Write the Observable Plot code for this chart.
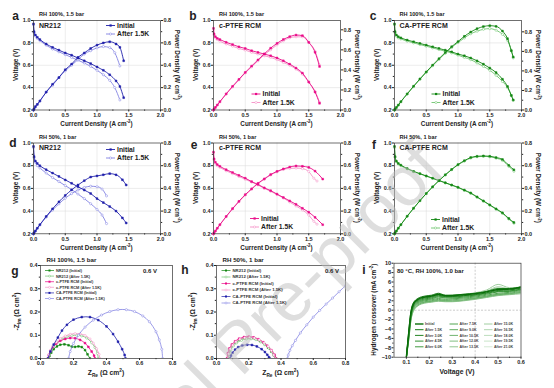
<!DOCTYPE html>
<html><head><meta charset="utf-8">
<script src="https://cdn.jsdelivr.net/npm/d3@7"></script>
<script src="https://cdn.jsdelivr.net/npm/@observablehq/plot@0.6"></script>
<style>
body{margin:0;background:#fff;font-family:"Liberation Sans",Arial,sans-serif}
#root{position:relative;width:554px;height:388px;overflow:hidden;background:#fff}
.p{position:absolute}
</style></head><body><div id="root"></div>
<script>
// ---------- Polarization data (current density A/cm2, voltage V, power W/cm2) ----------
// a: NR212, RH 100%
const aI0 = [0,0.01,0.03,0.06,0.1,0.2,0.3,0.4,0.5,0.6,0.7,0.8,0.9,1.0,1.1,1.2,1.3,1.36,1.42];
const aV0 = [0.97,0.90,0.87,0.85,0.83,0.79,0.76,0.735,0.71,0.69,0.665,0.64,0.615,0.585,0.555,0.515,0.46,0.41,0.31];
const aP0 = [0,0.01,0.03,0.05,0.08,0.16,0.23,0.29,0.36,0.41,0.47,0.51,0.55,0.58,0.60,0.61,0.59,0.56,0.44];
const aI1 = [0,0.01,0.03,0.06,0.1,0.2,0.3,0.4,0.5,0.6,0.7,0.8,0.9,1.0,1.1,1.2,1.28,1.36];
const aV1 = [0.96,0.89,0.86,0.84,0.82,0.78,0.745,0.72,0.695,0.67,0.645,0.62,0.59,0.555,0.515,0.465,0.40,0.29];
const aP1 = [0,0.01,0.03,0.05,0.08,0.16,0.22,0.29,0.35,0.40,0.45,0.50,0.53,0.555,0.567,0.558,0.512,0.394];
// b: c-PTFE RCM, RH 100%
const bI0 = [0,0.01,0.03,0.06,0.1,0.2,0.3,0.4,0.5,0.6,0.7,0.8,0.9,1.0,1.1,1.2,1.3,1.4,1.5,1.6,1.67];
const bV0 = [0.93,0.88,0.855,0.84,0.83,0.805,0.785,0.765,0.75,0.73,0.715,0.70,0.685,0.665,0.64,0.61,0.575,0.53,0.45,0.36,0.26];
const bP0 = [0,0.009,0.026,0.05,0.083,0.161,0.236,0.306,0.375,0.438,0.50,0.56,0.617,0.665,0.704,0.732,0.748,0.742,0.675,0.576,0.434];
const bI1 = [0,0.01,0.03,0.06,0.1,0.2,0.3,0.4,0.5,0.6,0.7,0.8,0.9,1.0,1.1,1.2,1.3,1.4,1.5,1.6,1.67];
const bV1 = [0.92,0.87,0.845,0.83,0.815,0.79,0.77,0.75,0.735,0.715,0.70,0.685,0.67,0.65,0.625,0.60,0.565,0.52,0.45,0.365,0.27];
const bP1 = [0,0.009,0.025,0.05,0.08,0.16,0.23,0.30,0.37,0.43,0.49,0.55,0.60,0.65,0.69,0.72,0.73,0.73,0.675,0.585,0.45];
// c: CA-PTFE RCM, RH 100%
const cI0 = [0,0.01,0.03,0.06,0.1,0.2,0.3,0.4,0.5,0.6,0.7,0.8,0.9,1.0,1.1,1.2,1.3,1.4,1.5,1.6,1.7,1.78,1.84,1.87];
const cV0 = [0.97,0.90,0.87,0.855,0.845,0.825,0.81,0.795,0.78,0.765,0.75,0.735,0.72,0.70,0.685,0.665,0.64,0.61,0.575,0.535,0.475,0.41,0.33,0.29];
const cP0 = [0,0.01,0.026,0.05,0.085,0.165,0.243,0.318,0.39,0.459,0.525,0.588,0.648,0.70,0.754,0.798,0.832,0.854,0.863,0.856,0.808,0.73,0.607,0.542];
const cI1 = [0,0.01,0.03,0.06,0.1,0.2,0.3,0.4,0.5,0.6,0.7,0.8,0.9,1.0,1.1,1.2,1.3,1.4,1.5,1.6,1.7,1.78,1.84,1.87];
const cV1 = [0.96,0.89,0.86,0.845,0.835,0.815,0.80,0.785,0.77,0.755,0.74,0.725,0.71,0.69,0.67,0.65,0.62,0.59,0.555,0.51,0.455,0.40,0.33,0.285];
const cP1 = [0,0.01,0.026,0.05,0.084,0.163,0.24,0.314,0.385,0.453,0.518,0.58,0.639,0.69,0.737,0.78,0.806,0.826,0.833,0.816,0.774,0.712,0.607,0.533];
// d: NR212, RH 50%
const dI0 = [0,0.01,0.03,0.06,0.1,0.2,0.3,0.4,0.5,0.6,0.7,0.8,0.9,1.0,1.1,1.2,1.3,1.4,1.46];
const dV0 = [0.97,0.88,0.84,0.82,0.80,0.765,0.735,0.705,0.675,0.645,0.615,0.585,0.555,0.51,0.475,0.44,0.40,0.34,0.295];
const dP0 = [0,0.009,0.025,0.049,0.08,0.153,0.22,0.282,0.338,0.387,0.43,0.468,0.50,0.51,0.52,0.53,0.52,0.476,0.43];
const dI1 = [0,0.01,0.03,0.06,0.1,0.2,0.3,0.4,0.5,0.6,0.7,0.8,0.9,1.0,1.08,1.15];
const dV1 = [0.96,0.87,0.83,0.80,0.78,0.735,0.695,0.66,0.625,0.59,0.55,0.51,0.465,0.415,0.365,0.29];
const dP1 = [0,0.009,0.025,0.048,0.078,0.147,0.209,0.264,0.313,0.354,0.385,0.408,0.419,0.415,0.394,0.334];
// e: c-PTFE RCM, RH 50%
const eI0 = [0,0.01,0.03,0.06,0.1,0.2,0.3,0.4,0.5,0.6,0.7,0.8,0.9,1.0,1.1,1.2,1.3,1.4,1.5,1.6,1.72];
const eV0 = [0.92,0.86,0.83,0.81,0.795,0.765,0.74,0.715,0.69,0.66,0.635,0.605,0.58,0.55,0.52,0.49,0.46,0.425,0.39,0.345,0.28];
const eP0 = [0,0.009,0.025,0.049,0.08,0.153,0.222,0.286,0.345,0.396,0.445,0.484,0.522,0.55,0.572,0.588,0.598,0.595,0.585,0.552,0.482];
const eI1 = [0,0.01,0.03,0.06,0.1,0.2,0.3,0.4,0.5,0.6,0.7,0.8,0.9,1.0,1.1,1.2,1.3,1.4,1.5,1.58,1.63];
const eV1 = [0.91,0.85,0.82,0.80,0.785,0.755,0.73,0.705,0.68,0.655,0.63,0.60,0.575,0.545,0.515,0.48,0.445,0.41,0.365,0.31,0.285];
const eP1 = [0,0.0085,0.025,0.048,0.079,0.151,0.219,0.282,0.34,0.393,0.441,0.48,0.518,0.545,0.567,0.576,0.579,0.574,0.548,0.49,0.465];
// f: CA-PTFE RCM, RH 50%
const fI0 = [0,0.01,0.03,0.06,0.1,0.2,0.3,0.4,0.5,0.6,0.7,0.8,0.9,1.0,1.1,1.2,1.3,1.4,1.5,1.6,1.7,1.8,1.88];
const fV0 = [0.97,0.88,0.84,0.82,0.805,0.775,0.75,0.73,0.71,0.69,0.67,0.65,0.63,0.61,0.585,0.56,0.525,0.49,0.455,0.42,0.385,0.335,0.30];
const fP0 = [0,0.009,0.025,0.049,0.08,0.155,0.225,0.292,0.355,0.414,0.469,0.52,0.567,0.61,0.644,0.672,0.683,0.686,0.683,0.672,0.655,0.603,0.564];
const fI1 = [0,0.01,0.03,0.06,0.1,0.2,0.3,0.4,0.5,0.6,0.7,0.8,0.9,1.0,1.1,1.2,1.3,1.4,1.5,1.6,1.7,1.8,1.88];
const fV1 = [0.96,0.875,0.835,0.815,0.80,0.772,0.748,0.728,0.708,0.688,0.668,0.648,0.628,0.607,0.582,0.556,0.522,0.487,0.452,0.416,0.38,0.33,0.293];
const fP1 = [0,0.009,0.025,0.049,0.08,0.154,0.224,0.291,0.354,0.413,0.468,0.518,0.565,0.607,0.64,0.667,0.679,0.682,0.678,0.666,0.646,0.594,0.551];

// ---------- EIS (Zre, -Zim in ohm cm2) ----------
const gNRiX = [0.05,0.055,0.065,0.08,0.10,0.12,0.145,0.17,0.19,0.21,0.23,0.25,0.27,0.285,0.30];
const gNRiY = [0,0.012,0.025,0.04,0.052,0.059,0.061,0.057,0.051,0.05,0.052,0.049,0.036,0.018,0];
const gNRaX = [0.05,0.055,0.065,0.08,0.10,0.13,0.16,0.19,0.22,0.25,0.28,0.31,0.33,0.345,0.35];
const gNRaY = [0,0.015,0.032,0.05,0.067,0.083,0.094,0.099,0.10,0.097,0.088,0.068,0.047,0.022,0];
const gCiX = [0.045,0.05,0.06,0.075,0.095,0.12,0.15,0.18,0.21,0.24,0.27,0.29,0.31,0.325,0.33];
const gCiY = [0,0.015,0.032,0.05,0.064,0.076,0.084,0.088,0.087,0.08,0.066,0.05,0.03,0.012,0];
const gCaX = [0.045,0.05,0.06,0.075,0.095,0.12,0.15,0.18,0.21,0.24,0.27,0.30,0.32,0.34,0.355,0.36];
const gCaY = [0,0.016,0.035,0.054,0.07,0.085,0.097,0.104,0.107,0.106,0.099,0.084,0.066,0.042,0.018,0];
const gCAiX = [0.045,0.06,0.08,0.105,0.13,0.16,0.20,0.25,0.30,0.35,0.40,0.44,0.47,0.495,0.51,0.515];
const gCAiY = [0,0.03,0.06,0.09,0.12,0.145,0.167,0.178,0.178,0.165,0.138,0.105,0.072,0.04,0.015,0];
const gCAaX = [0.17,0.18,0.20,0.23,0.27,0.32,0.37,0.42,0.47,0.52,0.57,0.62,0.66,0.70,0.72,0.735,0.74];
const gCAaY = [0,0.03,0.065,0.10,0.135,0.165,0.187,0.202,0.21,0.21,0.202,0.183,0.158,0.115,0.08,0.04,0];

const hNRiX = [0.07,0.075,0.085,0.10,0.12,0.15,0.18,0.21,0.24,0.27,0.30,0.32,0.34,0.355,0.365];
const hNRiY = [0,0.02,0.04,0.057,0.07,0.082,0.088,0.089,0.085,0.075,0.06,0.047,0.03,0.014,0];
const hNRaX = [0.075,0.08,0.09,0.105,0.125,0.155,0.185,0.215,0.245,0.275,0.30,0.325,0.345,0.36,0.37];
const hNRaY = [0,0.018,0.037,0.054,0.067,0.078,0.084,0.085,0.081,0.071,0.059,0.044,0.028,0.012,0];
const hCiX = [0.065,0.07,0.08,0.095,0.115,0.14,0.17,0.20,0.23,0.26,0.29,0.315,0.34,0.36,0.37];
const hCiY = [0,0.022,0.043,0.06,0.074,0.085,0.092,0.094,0.091,0.083,0.07,0.055,0.036,0.016,0];
const hCaX = [0.07,0.075,0.085,0.10,0.12,0.145,0.175,0.205,0.235,0.265,0.295,0.32,0.34,0.355,0.365];
const hCaY = [0,0.02,0.041,0.058,0.072,0.083,0.089,0.091,0.088,0.08,0.067,0.052,0.034,0.015,0];
const hCAiX = [0.085,0.09,0.10,0.115,0.135,0.16,0.19,0.22,0.25,0.28,0.30,0.315,0.325,0.33];
const hCAiY = [0,0.012,0.025,0.038,0.049,0.056,0.059,0.058,0.052,0.04,0.028,0.016,0.006,0];
const hCAaX = [0.44,0.445,0.455,0.47,0.49,0.52,0.56,0.60,0.64,0.68,0.72,0.76,0.80];
const hCAaY = [0,0.015,0.035,0.055,0.078,0.11,0.145,0.178,0.207,0.234,0.26,0.287,0.313];

const eisLabels = ["NR212 (Initial)","NR212 (After 1.5K)","c-PTFE RCM (Initial)","c-PTFE RCM (After 1.5K)","CA-PTFE RCM (Initial)","CA-PTFE RCM (After 1.5K)"];

// ---------- Hydrogen crossover (voltage V, current mA/cm2) ----------
const xV = [0.1,0.11,0.12,0.13,0.15,0.18,0.21,0.24,0.27,0.3,0.35,0.4,0.45,0.5,0.55,0.6];
const xc0  = [-10,-5.0,-0.5,1.3,2.3,2.8,3.0,3.4,3.1,3.1,3.3,3.5,3.9,4.4,4.5,4.9];
const xc1  = [-10,-4.6,-0.2,1.5,2.5,3.0,3.2,3.6,3.2,3.2,3.4,3.6,4.0,4.6,4.6,5.0];
const xc2  = [-10,-5.2,-0.8,1.1,2.1,2.6,2.8,3.2,2.9,2.9,3.1,3.3,3.7,4.2,4.3,4.7];
const xc3  = [-10,-5.4,-1.0,0.9,1.9,2.4,2.6,3.0,2.8,2.8,3.0,3.2,3.6,4.0,4.1,4.5];
const xc4  = [-10,-5.6,-1.2,0.7,1.7,2.2,2.4,2.8,2.6,2.6,2.8,3.0,3.4,3.9,4.0,4.4];
const xc5  = [-10,-5.8,-1.4,0.5,1.5,2.0,2.2,2.5,2.3,2.4,2.6,2.8,3.2,3.6,3.8,4.2];
const xc6  = [-10,-6.0,-1.6,0.3,1.3,1.8,2.0,2.3,2.1,2.2,2.4,2.6,3.0,3.4,3.6,4.0];
const xc7  = [-10,-6.2,-1.8,0.1,1.1,1.7,1.9,2.1,2.0,2.0,2.2,2.5,2.9,3.3,3.5,3.8];
const xc8  = [-10,-6.4,-2.0,-0.1,1.0,1.6,1.8,2.0,1.9,1.9,2.1,2.4,2.8,3.2,3.4,3.7];
const xc9  = [-10,-6.6,-2.2,-0.3,0.9,1.5,1.7,1.9,1.8,1.8,2.0,2.3,2.7,3.1,3.3,3.5];
const xc10 = [-10,-5.0,-0.6,1.2,2.2,2.8,3.0,3.3,3.1,3.2,3.4,3.7,4.3,5.5,4.8,4.9];
const xc11 = [-10,-5.3,-0.9,1.0,2.0,2.6,2.9,3.2,3.0,3.0,3.3,3.6,4.1,5.0,4.6,4.7];
const xc12 = [-10,-5.5,-1.1,0.8,1.9,2.5,2.8,3.1,2.9,2.9,3.2,3.5,4.0,4.8,4.5,4.6];
const xc13 = [-10,-5.7,-1.3,0.6,1.7,2.3,2.6,2.9,2.7,2.7,3.0,3.3,3.8,4.5,4.3,4.4];
const xc14 = [-10,-5.9,-1.5,0.4,1.5,2.1,2.4,2.7,2.5,2.5,2.8,3.1,3.6,4.3,4.1,4.2];
const xLabels = ["Initial","After 1.5K","After 3.0K","After 4.5K","After 6.0K","After 7.5K","After 9.0K","After 10.5K","After 12.0K","After 13.5K","After 15.0K","After 16.5K","After 18.0K","After 19.5K","After 21.0K"];

// ---------- styling ----------
const FONT = "Liberation Sans, Arial, sans-serif";
const BLUE = ["#1e1eaa","#8282e2"], PINK = ["#ea0a88","#f590c6"], GREEN = ["#128612","#6ec46e"];
const XGREENS = ["#0a6e0a","#177a17","#248524","#329032","#409a40","#50a450","#60ad60","#70b570","#80be80","#90c690","#a0cea0","#afd6af","#bcddbc","#c8e4c8","#d3e9d3"];
const root = document.getElementById("root");
function place(el, left, top){const d=document.createElement("div");d.className="p";d.style.left=left+"px";d.style.top=top+"px";d.appendChild(el);root.appendChild(d);}
const rows = (I,V,P) => I.map((x,k)=>({i:x, v:V[k], p:P[k]}));
const pts = (X,Y) => X.map((x,k)=>({x, y:Y[k]}));
const baseStyle = {fontFamily:FONT, fontSize:"5.5px", fontWeight:"bold", color:"#222", background:"transparent", overflow:"visible"};

function pol(I0,V0,P0,I1,V1,P1,pmax,col,mt,mb){
  const r0 = rows(I0,V0,P0), r1 = rows(I1,V1,P1);
  const py = d => 0.2 + d.p*0.8/pmax;
  const rt = [0,0.2,0.4,0.6,0.8].map(p=>0.2+p*0.8/pmax);
  const rtm = [0.1,0.3,0.5,0.7].map(p=>0.2+p*0.8/pmax);
  const set = (r, c, open) => [
    Plot.line(r,{x:"i",y:"v",stroke:c,strokeWidth:0.9,curve:"monotone-x"}),
    Plot.line(r,{x:"i",y:py,stroke:c,strokeWidth:0.9,curve:"monotone-x"}),
    Plot.dot(r,{x:"i",y:"v",symbol:open?"circle":"square",r:open?1.1:1.0,fill:open?"white":c,stroke:c,strokeWidth:0.5}),
    Plot.dot(r,{x:"i",y:py,symbol:open?"circle":"square",r:open?1.1:1.0,fill:open?"white":c,stroke:c,strokeWidth:0.5})
  ];
  return Plot.plot({
    width:184, height:130, marginLeft:33, marginRight:24, marginTop:mt, marginBottom:mb,
    style:baseStyle,
    x:{domain:[0,2]}, y:{domain:[0.2,1.0]},
    marks:[
      Plot.gridX([0.5,1,1.5],{stroke:"#d8d8d8",strokeOpacity:1,strokeWidth:0.5}),
      Plot.gridY([0.4,0.6,0.8],{stroke:"#d8d8d8",strokeOpacity:1,strokeWidth:0.5}),
      Plot.axisX({ticks:[0,0.5,1,1.5,2],tickFormat:d3.format(".1f"),tickSize:2,tickPadding:1,label:null}),
      Plot.axisX({ticks:[0.25,0.75,1.25,1.75],tickSize:1.2,text:null,label:null}),
      Plot.axisY({ticks:[0.2,0.4,0.6,0.8,1.0],tickFormat:d3.format(".1f"),tickSize:2,tickPadding:1,label:null}),
      Plot.axisY({ticks:[0.3,0.5,0.7,0.9],tickSize:1.2,text:null,label:null}),
      Plot.axisY({anchor:"right",ticks:rt,tickFormat:v=>((v-0.2)*pmax/0.8).toFixed(1),tickSize:2,tickPadding:1,label:null}),
      Plot.axisY({anchor:"right",ticks:rtm,tickSize:1.2,text:null,label:null}),
      ...set(r1,col[1],true),
      ...set(r0,col[0],false),
      Plot.frame({stroke:"#333",strokeWidth:0.7})
    ]
  });
}

place(pol(aI0,aV0,aP0,aI1,aV1,aP1,0.8,BLUE,20,20.5),0,0);
place(pol(bI0,bV0,bP0,bI1,bV1,bP1,0.893,PINK,20,20.5),180,0);
place(pol(cI0,cV0,cP0,cI1,cV1,cP1,0.916,GREEN,20,20.5),360.5,0);
place(pol(dI0,dV0,dP0,dI1,dV1,dP1,0.8,BLUE,18.5,20.7),0,124);
place(pol(eI0,eV0,eP0,eI1,eV1,eP1,0.8,PINK,18.5,20.7),180,124);
place(pol(fI0,fV0,fP0,fI1,fV1,fP1,0.8,GREEN,18.5,20.7),360.5,124);

// EIS panels
const eisCols = [GREEN[0],GREEN[1],PINK[0],PINK[1],BLUE[0],BLUE[1]];
function eis(sets, ml, mr){
  const marks = [
    Plot.axisX({ticks:[0,0.2,0.4,0.6,0.8],tickFormat:d3.format(".1f"),tickSize:2,tickPadding:1,label:null}),
    Plot.axisX({ticks:[0.1,0.3,0.5,0.7],tickSize:1.2,text:null,label:null}),
    Plot.axisY({ticks:[0,0.1,0.2,0.3,0.4],tickFormat:d3.format(".1f"),tickSize:2,tickPadding:1,label:null}),
    Plot.axisY({ticks:[0.05,0.15,0.25,0.35],tickSize:1.2,text:null,label:null})
  ];
  sets.forEach((s,k)=>{
    const c = eisCols[k], open = k%2===1;
    marks.push(Plot.line(s,{x:"x",y:"y",stroke:c,strokeWidth:0.8,curve:"catmull-rom",clip:true}));
    marks.push(Plot.dot(s,{x:"x",y:"y",symbol:open?"circle":"square",r:open?1.1:1.0,fill:open?"white":c,stroke:c,strokeWidth:0.5,clip:true}));
  });
  marks.push(Plot.frame({stroke:"#333",strokeWidth:0.7}));
  return Plot.plot({width:184,height:138,marginLeft:ml,marginRight:mr,marginTop:15,marginBottom:30,style:baseStyle,
    x:{domain:[0,0.8]}, y:{domain:[0,0.4]}, marks});
}
place(eis([pts(gNRiX,gNRiY),pts(gNRaX,gNRaY),pts(gCiX,gCiY),pts(gCaX,gCaY),pts(gCAiX,gCAiY),pts(gCAaX,gCAaY)],40,12),0,250);
place(eis([pts(hNRiX,hNRiY),pts(hNRaX,hNRaY),pts(hCiX,hCiY),pts(hCaX,hCaY),pts(hCAiX,hCAiY),pts(hCAaX,hCAaY)],36,19),180,250);

// Crossover panel
const xcs = [xc0,xc1,xc2,xc3,xc4,xc5,xc6,xc7,xc8,xc9,xc10,xc11,xc12,xc13,xc14];
{
  const marks = [
    Plot.ruleX([0.4],{stroke:"#aaa",strokeDasharray:"2,1.5",strokeWidth:0.6}),
    Plot.ruleY([0],{stroke:"#aaa",strokeDasharray:"2,1.5",strokeWidth:0.6}),
    Plot.axisX({ticks:[0.1,0.2,0.3,0.4,0.5,0.6],tickFormat:d3.format(".1f"),tickSize:2,tickPadding:1,label:null}),
    Plot.axisX({ticks:[0.15,0.25,0.35,0.45,0.55],tickSize:1.2,text:null,label:null}),
    Plot.axisY({ticks:d3.range(-10,11,2),tickSize:2,tickPadding:1,label:null}),
    Plot.axisY({ticks:d3.range(-9,10,2),tickSize:1.2,text:null,label:null})
  ];
  for (let k=xcs.length-1;k>=0;k--){
    marks.push(Plot.line(pts(xV,xcs[k]),{x:"x",y:"y",stroke:XGREENS[k],strokeWidth:k===0?1.5:1.0,curve:"monotone-x",clip:true}));
  }
  marks.push(Plot.frame({stroke:"#333",strokeWidth:0.7}));
  place(Plot.plot({width:194,height:138,marginLeft:33.5,marginRight:33.5,marginTop:12.7,marginBottom:31.3,style:baseStyle,
    x:{domain:[0.046,0.6]}, y:{domain:[-10,10]}, marks}),360,250);
}

// ---------- overlay text ----------
const ov = d3.select(root).append("svg").attr("width",554).attr("height",388)
  .style("position","absolute").style("left","0").style("top","0").style("font-family",FONT);
function label(x,y,parts,{size=6.5,weight="bold",anchor="middle",rotate=0,fill="#222"}={}){
  const t = ov.append("text").attr("transform",`translate(${x},${y}) rotate(${rotate})`)
    .attr("text-anchor",anchor).attr("font-size",size).attr("font-weight",weight).attr("fill",fill);
  let cur = 0;
  for (const p of parts){
    let s = p, off = 0, fs = size;
    if (typeof p !== "string"){ s = p.t; off = p.sup ? -0.4*size : 0.3*size; fs = size*0.7; }
    t.append("tspan").attr("dy",off-cur).attr("font-size",fs).text(s);
    cur = off;
  }
  return t;
}
const cmA = ["Current Density (A cm",{t:"-2",sup:1},")"];
const cmW = ["Power Density (W cm",{t:"-2",sup:1},")"];
const panels = [
  {x0:0,fy0:20,fy1:109.5,letter:"a",lx:15.5,ly:19.5,sub:"RH 100%, 1.5 bar",sy:15.5,name:"NR212"},
  {x0:180,fy0:20,fy1:109.5,letter:"b",lx:193,ly:19.5,sub:"RH 100%, 1.5 bar",sy:15.5,name:"c-PTFE RCM"},
  {x0:360.5,fy0:20,fy1:109.5,letter:"c",lx:373,ly:20,sub:"RH 100%, 1.5 bar",sy:15.5,name:"CA-PTFE RCM"},
  {x0:0,fy0:142.5,fy1:233.3,letter:"d",lx:13,ly:146.5,sub:"RH 50%, 1 bar",sy:139,name:"NR212"},
  {x0:180,fy0:142.5,fy1:233.3,letter:"e",lx:194,ly:149,sub:"RH 50%, 1 bar",sy:139,name:"c-PTFE RCM"},
  {x0:360.5,fy0:142.5,fy1:233.3,letter:"f",lx:374,ly:148.5,sub:"RH 50%, 1 bar",sy:139,name:"CA-PTFE RCM"}
];
const legPos = [[106,25.5],[251.5,94],[431.5,94],[106,149.5],[250,218.5],[431,219.5]];
const cols = [BLUE,PINK,GREEN,BLUE,PINK,GREEN];
// watermark (drawn first, very light)
ov.append("text").attr("transform","translate(447,172) rotate(-45)").attr("text-anchor","end")
  .attr("font-size",70).attr("font-family",FONT).attr("fill","#bdbdbd").attr("fill-opacity",0.5).text("Journal Pre-proof");
panels.forEach((p,k)=>{
  const fx0 = p.x0+33, fx1 = p.x0+160, fym = (p.fy0+p.fy1)/2;
  label(p.lx,p.ly,[p.letter],{size:12});
  label(fx0+6,p.sy,[p.sub],{size:5.6,anchor:"start",weight:"bold"});
  label(fx0+6,p.fy0+7.5,[p.name],{size:7,anchor:"start"});
  label(fx0-15,fym,["Voltage (V)"],{size:6.3,rotate:-90});
  label(fx1+15,fym,cmW,{size:6.3,rotate:90});
  label((fx0+fx1)/2,p.fy1+16.5,cmA,{size:6.3});
  const [lx,ly] = legPos[k];
  ["Initial","After 1.5K"].forEach((t,j)=>{
    const y = ly + j*8.5, c = cols[k][j];
    ov.append("line").attr("x1",lx).attr("x2",lx+9).attr("y1",y).attr("y2",y).attr("stroke",c).attr("stroke-width",0.9);
    if (j===0) ov.append("rect").attr("x",lx+3.5).attr("y",y-1.1).attr("width",2.2).attr("height",2.2).attr("fill",c);
    else ov.append("circle").attr("cx",lx+4.5).attr("cy",y).attr("r",1.1).attr("fill","white").attr("stroke",c).attr("stroke-width",0.5);
    label(lx+11,y+2.3,[t],{size:6.8,anchor:"start"});
  });
});
// EIS labels
[[0,40,172,"g",15,275,"RH 100%, 1.5 bar",46.5,[45,270.5,5.6,3.9],143],[180,216,345,"h",185,273.5,"RH 50%, 1 bar",222.5,[221.5,270.5,6.5,4.3],325]].forEach(([x0,fx0,fx1,lt,lx,ly,sub,sx,leg,vx])=>{
  label(lx,ly,[lt],{size:12});
  label(sx,262,[sub],{size:6.2,anchor:"start"});
  label(fx0-21,311.5,["-Z",{t:"Im",sub:1}," (\u03A9 cm",{t:"2",sup:1},")"],{size:6.8,rotate:-90});
  label((fx0+fx1)/2,374.5,["Z",{t:"Re",sub:1}," (\u03A9 cm",{t:"2",sup:1},")"],{size:6.8});
  label(vx,272.5,["0.6 V"],{size:6,anchor:"start"});
  const [lx0,ly0,dy,fs] = leg;
  eisLabels.forEach((t,j)=>{
    const y = ly0 + j*dy, c = eisCols[j];
    ov.append("line").attr("x1",lx0).attr("x2",lx0+9).attr("y1",y).attr("y2",y).attr("stroke",c).attr("stroke-width",0.7);
    if (j%2===0) ov.append("rect").attr("x",lx0+3.5).attr("y",y-1).attr("width",2).attr("height",2).attr("fill",c);
    else ov.append("circle").attr("cx",lx0+4.5).attr("cy",y).attr("r",1).attr("fill","white").attr("stroke",c).attr("stroke-width",0.5);
    label(lx0+11,y+1.4,[t],{size:fs,anchor:"start",fill:"#333"});
  });
});
// crossover labels
label(364,273.5,["i"],{size:12});
label(397,273,["80 \u00B0C, RH 100%, 1.0 bar"],{size:6,anchor:"start"});
label(376,309.7,["Hydrogen crossover (mA cm",{t:"-2",sup:1},")"],{size:6.3,rotate:-90});
label(457,374,["Voltage (V)"],{size:6.8});
xLabels.forEach((t,k)=>{
  const col = Math.floor(k/5), row = k%5;
  const lx = [415,449.5,484][col], y = 324 + row*5.7;
  ov.append("line").attr("x1",lx).attr("x2",lx+8.5).attr("y1",y).attr("y2",y).attr("stroke",XGREENS[k]).attr("stroke-width",k===0?1.4:1);
  label(lx+10,y+1.3,[t],{size:3.6,anchor:"start",fill:"#444"});
});
</script></body></html>
